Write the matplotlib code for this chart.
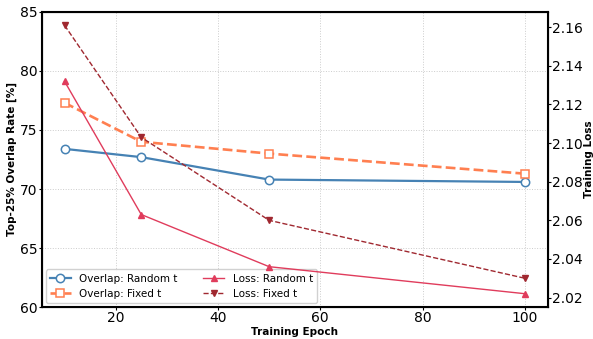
import matplotlib.pyplot as plt

epochs = [10, 25, 50, 100]
overlap_random = [73.4, 72.7, 70.8, 70.6]
overlap_fixed = [77.3, 74.0, 73.0, 71.3]
loss_random = [2.132, 2.063, 2.036, 2.022]
loss_fixed = [2.161, 2.103, 2.060, 2.030]

fig, ax1 = plt.subplots(figsize=(5.93, 3.39), dpi=100)

l1, = ax1.plot(epochs, overlap_random, color='#4682B4', linestyle='-', linewidth=1.6,
               marker='o', markersize=6, markerfacecolor='white', markeredgewidth=1.1,
               label='Overlap: Random t')
l2, = ax1.plot(epochs, overlap_fixed, color='#FF7F50', linestyle='--', linewidth=1.9,
               marker='s', markersize=6, markerfacecolor='white', markeredgewidth=1.1,
               label='Overlap: Fixed t')
ax1.set_ylim(60, 85)
ax1.set_xlabel('Training Epoch', fontsize=7.5, fontweight='bold', labelpad=1)
ax1.set_ylabel('Top-25% Overlap Rate [%]', fontsize=7.5, fontweight='bold', labelpad=2)
ax1.tick_params(labelsize=10, length=2, pad=1)
ax1.grid(True, linestyle=':', color='#cccccc', linewidth=0.7)
for s in ax1.spines.values():
    s.set_linewidth(1.5)

ax2 = ax1.twinx()
l3, = ax2.plot(epochs, loss_random, color='#E03C5C', linestyle='-', linewidth=1.0,
               marker='^', markersize=4.5, label='Loss: Random t')
l4, = ax2.plot(epochs, loss_fixed, color='#A02830', linestyle='--', linewidth=1.0,
               marker='v', markersize=4.5, label='Loss: Fixed t')
ax2.set_ylabel('Training Loss', fontsize=7.5, fontweight='bold', labelpad=1)
ax2.tick_params(labelsize=10, length=2, pad=1)
ax2.set_yticks([2.02, 2.04, 2.06, 2.08, 2.10, 2.12, 2.14, 2.16])

ax1.legend(handles=[l1, l2, l3, l4], loc='lower left', ncol=2, fontsize=7.5,
           framealpha=0.9, borderaxespad=0.4, handlelength=2, columnspacing=2.5)

fig.subplots_adjust(left=0.07, right=0.924, top=0.965, bottom=0.094)
fig.savefig('out.png')
